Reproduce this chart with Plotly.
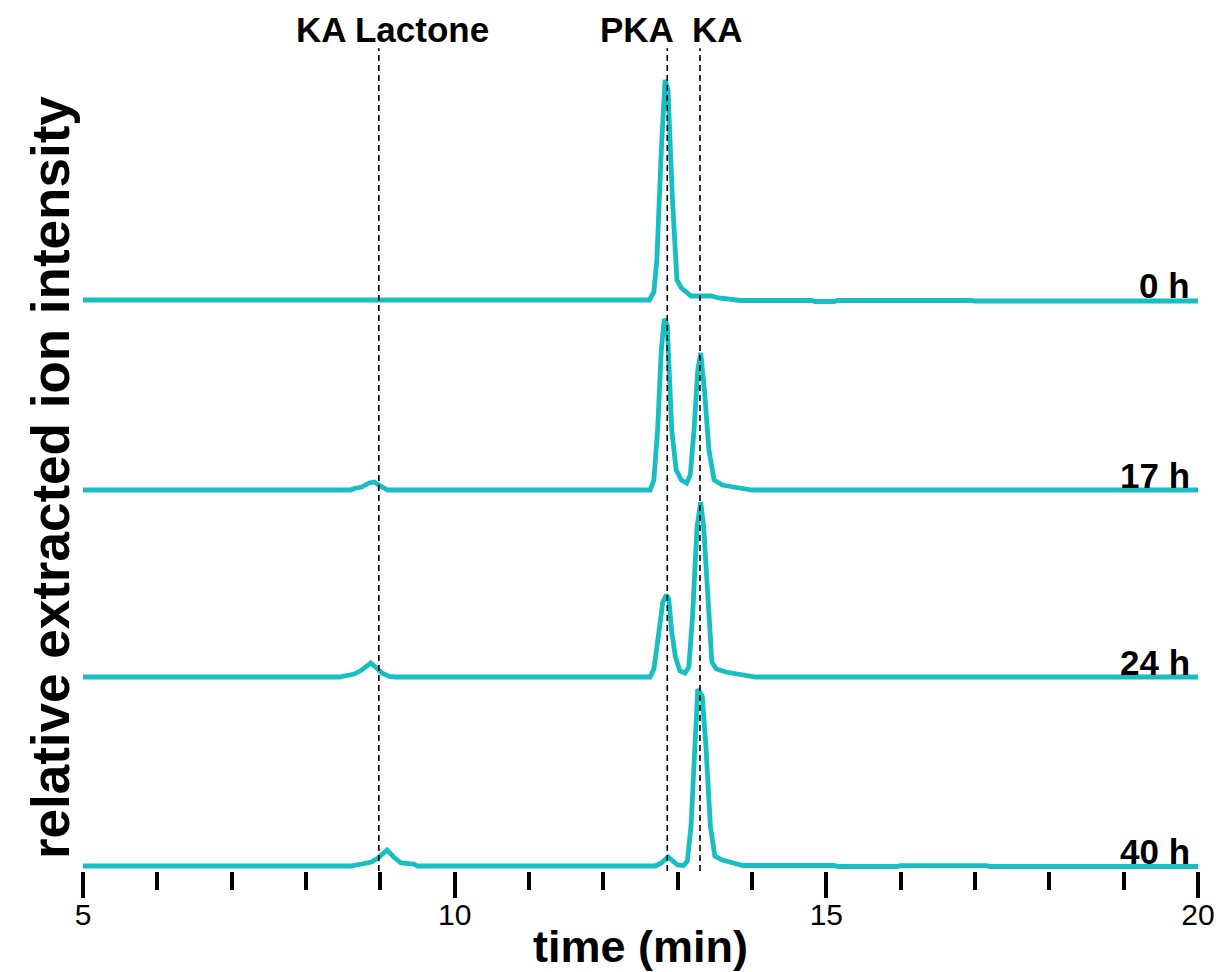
import plotly.graph_objects as go

# ---- data (time in min, relative intensity) ----
labels = ["0 h", "17 h", "24 h", "40 h"]
offsets = [571, 381, 194, 5]

t_0h = [5.0, 12.62, 12.68, 12.72, 12.78, 12.83, 12.87, 12.93, 12.99, 13.05, 13.18, 13.45, 13.55, 13.72,
        13.85, 14.8, 14.85, 15.1, 15.15, 16.95, 17.0, 20.0]
i_0h = [0, 0, 8, 40, 150, 220, 210, 100, 20, 12, 4, 4, 2, 0.5,
        -0.5, -0.5, -1.5, -1.5, -0.5, -0.5, -1, -1]

t_17h = [5.0, 8.6, 8.65, 8.75, 8.85, 8.92, 9.0, 9.1, 12.63, 12.68, 12.73, 12.78, 12.82, 12.86, 12.92,
         12.98, 13.05, 13.12, 13.17, 13.22, 13.27, 13.31, 13.36, 13.42, 13.49, 13.6, 13.75, 13.9, 14.0, 20.0]
i_17h = [0, 0, 1.5, 3, 7, 8, 4, 0, 0, 10, 60, 140, 171, 165, 60,
         20, 10, 7, 15, 60, 120, 137, 100, 40, 10, 5, 3, 1, 0, 0]

t_24h = [5.0, 8.45, 8.55, 8.65, 8.75, 8.87, 8.95, 9.02, 9.12, 9.2, 12.63, 12.68, 12.73, 12.8, 12.85,
         12.88, 12.92, 12.97, 13.03, 13.1, 13.15, 13.2, 13.26, 13.31, 13.35, 13.4, 13.46, 13.52, 13.65,
         13.8, 13.95, 14.05, 20.0]
i_24h = [0, 0, 1.5, 3, 7, 14, 9, 4, 0.5, 0, 0, 8, 35, 75, 82,
         78, 45, 20, 6, 4, 10, 60, 150, 175, 150, 80, 15, 8, 5,
         3, 1, 0, 0]

t_40h = [5.0, 8.6, 8.75, 8.88, 8.97, 9.09, 9.18, 9.28, 9.45, 9.5, 12.7, 12.78, 12.87, 12.93, 13.0,
         13.08, 13.13, 13.18, 13.23, 13.27, 13.33, 13.38, 13.44, 13.5, 13.6, 13.75, 13.88, 15.1, 15.16,
         15.95, 16.0, 17.15, 17.2, 20.0]
i_40h = [0, 0, 2, 4, 8, 16, 9, 3, 2, 0, 0, 3, 9, 5, 1,
         0.5, 5, 40, 130, 177, 170, 120, 40, 10, 6, 3, 0.5, 0.5, -0.5,
         -0.5, 0.3, 0.3, -0.5, -0.5]

times = [t_0h, t_17h, t_24h, t_40h]
intensities = [i_0h, i_17h, i_24h, i_40h]

marker_names = ["KA Lactone", "PKA", "KA"]
marker_times = [8.98, 12.86, 13.30]
marker_label_x = [9.17, 12.45, 13.54]

xtick_vals = [5, 10, 15, 20]
xtick_text = ["5", "10", "15", "20"]

# ---- figure ----
COLOR = "#17BEC2"
FONT = "Liberation Sans, Arial, sans-serif"

fig = go.Figure()
for t, inten, off, lab in zip(times, intensities, offsets, labels):
    fig.add_trace(go.Scatter(
        x=t, y=[v + off for v in inten], mode="lines", name=lab,
        line=dict(color=COLOR, width=4.8), showlegend=False, hoverinfo="skip"))

for mt in marker_times:
    fig.add_shape(type="line", xref="x", yref="paper", x0=mt, x1=mt, y0=0.0, y1=0.99,
                  line=dict(color="black", width=1.6, dash="6px,4px"))

for name, lx in zip(marker_names, marker_label_x):
    fig.add_annotation(x=lx, y=1.013, xref="x", yref="paper", text="<b>%s</b>" % name,
                       showarrow=False, xanchor="center", yanchor="middle",
                       font=dict(family=FONT, size=35, color="black"))

for lab, off in zip(labels, offsets):
    fig.add_annotation(x=19.92, y=off + 15, xref="x", yref="y", text="<b>%s</b>" % lab,
                       showarrow=False, xanchor="right", yanchor="middle",
                       font=dict(family=FONT, size=35, color="black"))

fig.add_annotation(x=-0.0296, y=0.474, xref="paper", yref="paper",
                   text="<b>relative extracted ion intensity</b>", textangle=-90,
                   showarrow=False, xanchor="center", yanchor="middle",
                   font=dict(family=FONT, size=53, color="black"))

fig.add_annotation(x=0.5, y=-0.091, xref="paper", yref="paper",
                   text="<b>time (min)</b>",
                   showarrow=False, xanchor="center", yanchor="middle",
                   font=dict(family=FONT, size=45, color="black"))

fig.update_layout(
    width=1214, height=964,
    margin=dict(l=75, r=24, t=32, b=101, autoexpand=False),
    plot_bgcolor="white", paper_bgcolor="white",
    xaxis=dict(range=[5, 20], showgrid=False, zeroline=False, showline=False,
               automargin=False,
               tickvals=xtick_vals, ticktext=xtick_text,
               ticks="outside", ticklen=26, tickwidth=4, tickcolor="black",
               ticklabelstandoff=-9,
               tickfont=dict(family=FONT, size=30, color="black"),
               minor=dict(dtick=1, ticks="outside", ticklen=18, tickwidth=4, tickcolor="black")),
    yaxis=dict(range=[0, 831], visible=False),
)

fig.write_html("out.html")
